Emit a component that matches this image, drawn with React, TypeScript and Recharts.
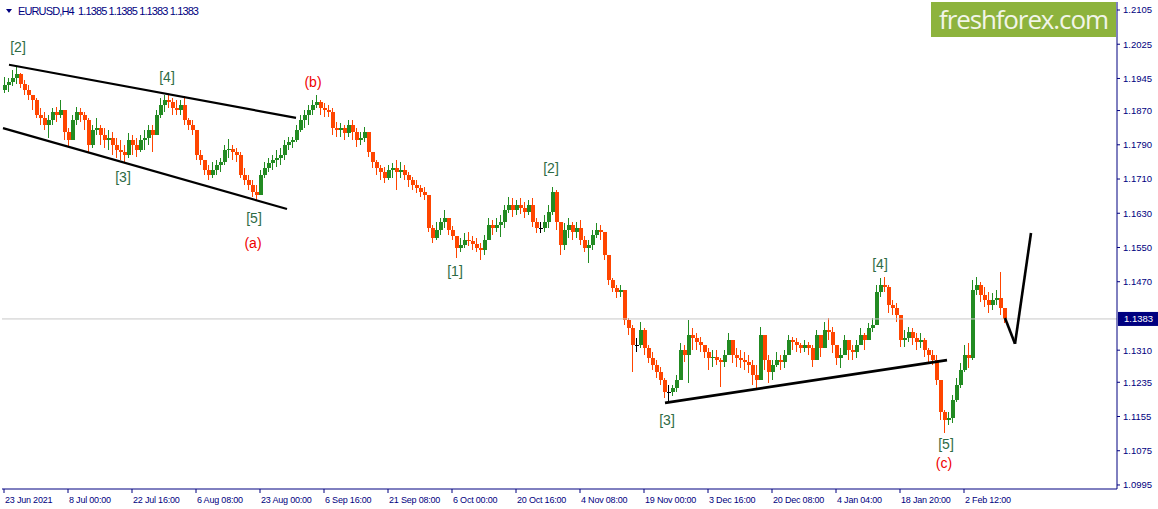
import React from 'react';
import { ComposedChart, Bar, XAxis, YAxis, ReferenceLine, ReferenceDot } from 'recharts';

// ---------- data (EURUSD, aggregated H4 candles) ----------
const firstOpen = 1.1918;

const closes = [
  1.1930, 1.1937, 1.1946, 1.1956, 1.1932, 1.1918, 1.1906, 1.1895, 1.1860, 1.1853,
  1.1836, 1.1848, 1.1867, 1.1860, 1.1871, 1.1820, 1.1801, 1.1848, 1.1867, 1.1860,
  1.1848, 1.1790, 1.1825, 1.1829, 1.1813, 1.1801, 1.1806, 1.1790, 1.1778, 1.1773,
  1.1766, 1.1801, 1.1790, 1.1778, 1.1801, 1.1806, 1.1825, 1.1813, 1.1860, 1.1883,
  1.1895, 1.1890, 1.1876, 1.1871, 1.1883, 1.1848, 1.1836, 1.1825, 1.1766, 1.1755,
  1.1731, 1.1719, 1.1731, 1.1743, 1.1750, 1.1778, 1.1781, 1.1773, 1.1766, 1.1719,
  1.1708, 1.1696, 1.1680, 1.1673, 1.1719, 1.1736, 1.1748, 1.1755, 1.1759, 1.1766,
  1.1790, 1.1797, 1.1801, 1.1825, 1.1848, 1.1860, 1.1871, 1.1883, 1.1890, 1.1876,
  1.1871, 1.1867, 1.1829, 1.1825, 1.1829, 1.1818, 1.1836, 1.1820, 1.1801, 1.1806,
  1.1820, 1.1773, 1.1750, 1.1736, 1.1726, 1.1712, 1.1731, 1.1736, 1.1726, 1.1731,
  1.1719, 1.1708, 1.1696, 1.1689, 1.1680, 1.1673, 1.1596, 1.1572, 1.1591, 1.1610,
  1.1619, 1.1591, 1.1577, 1.1549, 1.1556, 1.1568, 1.1565, 1.1558, 1.1549, 1.1544,
  1.1568, 1.1603, 1.1596, 1.1603, 1.1610, 1.1638, 1.1649, 1.1638, 1.1649, 1.1642,
  1.1633, 1.1649, 1.1610, 1.1596, 1.1596, 1.1610, 1.1633, 1.1680, 1.1610, 1.1556,
  1.1591, 1.1603, 1.1586, 1.1596, 1.1568, 1.1549, 1.1556, 1.1579, 1.1591, 1.1586,
  1.1533, 1.1474, 1.1455, 1.1446, 1.1451, 1.1381, 1.1362, 1.1322, 1.1322, 1.1357,
  1.1315, 1.1292, 1.1276, 1.1259, 1.1240, 1.1212, 1.1212, 1.1222, 1.1240, 1.1311,
  1.1299, 1.1346, 1.1339, 1.1329, 1.1322, 1.1306, 1.1292, 1.1295, 1.1287, 1.1283,
  1.1299, 1.1334, 1.1299, 1.1292, 1.1287, 1.1283, 1.1276, 1.1252, 1.1240, 1.1346,
  1.1287, 1.1259, 1.1276, 1.1287, 1.1283, 1.1299, 1.1334, 1.1329, 1.1322, 1.1315,
  1.1322, 1.1315, 1.1287, 1.1346, 1.1315, 1.1357, 1.1353, 1.1322, 1.1292, 1.1299,
  1.1334, 1.1311, 1.1306, 1.1322, 1.1346, 1.1334, 1.1362, 1.1369, 1.1446, 1.1462,
  1.1458, 1.1416, 1.1409, 1.1392, 1.1334, 1.1339, 1.1353, 1.1339, 1.1329, 1.1334,
  1.1311, 1.1299, 1.1287, 1.1240, 1.1166, 1.1147, 1.1152, 1.1194, 1.1229, 1.1264,
  1.1299, 1.1292, 1.1451, 1.1462, 1.1439, 1.1427, 1.1416, 1.1427, 1.1432, 1.1409,
  1.1383,
];

const highs = [
  1.1948, 1.1946, 1.1965, 1.1974, 1.1958, 1.1941, 1.1930, 1.1906, 1.1899, 1.1876,
  1.1867, 1.1860, 1.1876, 1.1878, 1.1895, 1.1860, 1.1829, 1.1860, 1.1878, 1.1876,
  1.1867, 1.1853, 1.1836, 1.1853, 1.1836, 1.1829, 1.1825, 1.1820, 1.1806, 1.1801,
  1.1790, 1.1818, 1.1813, 1.1806, 1.1813, 1.1825, 1.1836, 1.1836, 1.1871, 1.1899,
  1.1906, 1.1909, 1.1899, 1.1895, 1.1895, 1.1904, 1.1853, 1.1848, 1.1825, 1.1778,
  1.1755, 1.1743, 1.1750, 1.1755, 1.1759, 1.1790, 1.1804, 1.1790, 1.1783, 1.1773,
  1.1736, 1.1719, 1.1708, 1.1696, 1.1731, 1.1750, 1.1759, 1.1766, 1.1778, 1.1783,
  1.1801, 1.1808, 1.1808, 1.1836, 1.1860, 1.1871, 1.1883, 1.1895, 1.1906, 1.1895,
  1.1888, 1.1883, 1.1876, 1.1843, 1.1841, 1.1836, 1.1848, 1.1848, 1.1829, 1.1820,
  1.1832, 1.1813, 1.1773, 1.1755, 1.1743, 1.1738, 1.1743, 1.1748, 1.1755, 1.1750,
  1.1743, 1.1726, 1.1715, 1.1708, 1.1696, 1.1691, 1.1661, 1.1603, 1.1610, 1.1619,
  1.1638, 1.1614, 1.1600, 1.1572, 1.1572, 1.1584, 1.1586, 1.1577, 1.1572, 1.1561,
  1.1579, 1.1619, 1.1614, 1.1619, 1.1626, 1.1649, 1.1668, 1.1666, 1.1661, 1.1666,
  1.1656, 1.1661, 1.1666, 1.1619, 1.1610, 1.1626, 1.1649, 1.1691, 1.1684, 1.1610,
  1.1607, 1.1619, 1.1610, 1.1610, 1.1614, 1.1577, 1.1568, 1.1591, 1.1607, 1.1603,
  1.1586, 1.1533, 1.1479, 1.1462, 1.1462, 1.1451, 1.1385, 1.1369, 1.1339, 1.1376,
  1.1362, 1.1322, 1.1306, 1.1287, 1.1271, 1.1245, 1.1229, 1.1229, 1.1252, 1.1327,
  1.1322, 1.1381, 1.1362, 1.1350, 1.1341, 1.1322, 1.1315, 1.1311, 1.1311, 1.1292,
  1.1311, 1.1350, 1.1322, 1.1315, 1.1311, 1.1306, 1.1299, 1.1287, 1.1276, 1.1364,
  1.1346, 1.1299, 1.1287, 1.1306, 1.1299, 1.1311, 1.1346, 1.1341, 1.1339, 1.1327,
  1.1334, 1.1329, 1.1322, 1.1357, 1.1339, 1.1376, 1.1385, 1.1364, 1.1322, 1.1315,
  1.1346, 1.1334, 1.1322, 1.1334, 1.1362, 1.1350, 1.1374, 1.1385, 1.1462, 1.1479,
  1.1481, 1.1462, 1.1427, 1.1420, 1.1385, 1.1357, 1.1364, 1.1362, 1.1350, 1.1350,
  1.1339, 1.1315, 1.1311, 1.1299, 1.1240, 1.1170, 1.1166, 1.1205, 1.1245, 1.1280,
  1.1322, 1.1327, 1.1474, 1.1481, 1.1469, 1.1458, 1.1446, 1.1444, 1.1451, 1.1493,
  1.1409,
];

const lows = [
  1.1911, 1.1913, 1.1927, 1.1932, 1.1923, 1.1906, 1.1895, 1.1871, 1.1853, 1.1836,
  1.1825, 1.1806, 1.1836, 1.1843, 1.1853, 1.1801, 1.1785, 1.1801, 1.1836, 1.1843,
  1.1825, 1.1773, 1.1783, 1.1813, 1.1790, 1.1783, 1.1778, 1.1766, 1.1759, 1.1755,
  1.1750, 1.1759, 1.1766, 1.1762, 1.1773, 1.1778, 1.1790, 1.1773, 1.1813, 1.1853,
  1.1867, 1.1876, 1.1860, 1.1860, 1.1860, 1.1836, 1.1825, 1.1813, 1.1755, 1.1743,
  1.1719, 1.1708, 1.1712, 1.1719, 1.1726, 1.1743, 1.1759, 1.1755, 1.1750, 1.1712,
  1.1696, 1.1684, 1.1668, 1.1661, 1.1673, 1.1712, 1.1726, 1.1731, 1.1738, 1.1743,
  1.1755, 1.1778, 1.1783, 1.1797, 1.1820, 1.1829, 1.1836, 1.1860, 1.1876, 1.1860,
  1.1855, 1.1855, 1.1813, 1.1808, 1.1808, 1.1801, 1.1808, 1.1801, 1.1785, 1.1790,
  1.1797, 1.1762, 1.1736, 1.1719, 1.1708, 1.1701, 1.1708, 1.1712, 1.1684, 1.1712,
  1.1708, 1.1691, 1.1684, 1.1677, 1.1668, 1.1661, 1.1586, 1.1561, 1.1568, 1.1579,
  1.1596, 1.1579, 1.1568, 1.1526, 1.1540, 1.1549, 1.1554, 1.1544, 1.1540, 1.1521,
  1.1533, 1.1568, 1.1579, 1.1586, 1.1575, 1.1596, 1.1631, 1.1621, 1.1626, 1.1628,
  1.1619, 1.1626, 1.1598, 1.1584, 1.1584, 1.1586, 1.1596, 1.1626, 1.1591, 1.1533,
  1.1544, 1.1572, 1.1568, 1.1572, 1.1556, 1.1540, 1.1514, 1.1544, 1.1572, 1.1568,
  1.1521, 1.1462, 1.1446, 1.1432, 1.1434, 1.1369, 1.1346, 1.1259, 1.1306, 1.1315,
  1.1299, 1.1280, 1.1264, 1.1245, 1.1229, 1.1198, 1.1187, 1.1203, 1.1212, 1.1240,
  1.1283, 1.1233, 1.1311, 1.1311, 1.1306, 1.1292, 1.1264, 1.1271, 1.1276, 1.1224,
  1.1271, 1.1304, 1.1280, 1.1271, 1.1269, 1.1264, 1.1257, 1.1229, 1.1217, 1.1240,
  1.1264, 1.1233, 1.1240, 1.1271, 1.1264, 1.1269, 1.1304, 1.1311, 1.1306, 1.1304,
  1.1306, 1.1299, 1.1271, 1.1299, 1.1294, 1.1322, 1.1334, 1.1304, 1.1276, 1.1269,
  1.1299, 1.1287, 1.1287, 1.1292, 1.1322, 1.1311, 1.1334, 1.1353, 1.1381, 1.1434,
  1.1446, 1.1397, 1.1392, 1.1376, 1.1318, 1.1318, 1.1329, 1.1322, 1.1311, 1.1315,
  1.1294, 1.1283, 1.1276, 1.1229, 1.1147, 1.1117, 1.1135, 1.1140, 1.1189, 1.1222,
  1.1259, 1.1269, 1.1287, 1.1439, 1.1423, 1.1411, 1.1397, 1.1404, 1.1416, 1.1392,
  1.1374,
];

// x-axis: one index per aggregated candle; a date label every 16 candles
const dateLabels = [
  '23 Jun 2021', '8 Jul 00:00', '22 Jul 16:00', '6 Aug 08:00', '23 Aug 00:00', '6 Sep 16:00',
  '21 Sep 08:00', '6 Oct 00:00', '20 Oct 16:00', '4 Nov 08:00', '19 Nov 00:00', '3 Dec 16:00',
  '20 Dec 08:00', '4 Jan 04:00', '18 Jan 20:00', '2 Feb 12:00',
];
const dateTickIdx = [0, 16, 32, 48, 64, 80, 96, 112, 128, 144, 160, 176, 192, 208, 224, 240];

const priceTicks = [
  1.2105, 1.2025, 1.1945, 1.1870, 1.1790, 1.1710, 1.1630, 1.1550, 1.1470,
  1.1310, 1.1235, 1.1155, 1.1075, 1.0995,
];

const symbolLabel = 'EURUSD,H4';
const lastBar = [1.1385, 1.1385, 1.1383, 1.1383];
const lastPrice = 1.1383;

// trend lines (bar index, price)
const trendLines = [
  { x1: 1.25, y1: 1.1977, x2: 73, y2: 1.1853 },
  { x1: -0.25, y1: 1.1829, x2: 70.75, y2: 1.1640 },
  { x1: 165.25, y1: 1.1187, x2: 235.75, y2: 1.1287 },
];
const projection = [
  { i: 250.25, p: 1.1385 },
  { i: 252.75, p: 1.1325 },
  { i: 256.75, p: 1.1584 },
];

const waveLabels = [
  { text: '[2]', i: 3.5, p: 1.2019, major: false },
  { text: '[4]', i: 40.75, p: 1.1948, major: false },
  { text: '[3]', i: 29.75, p: 1.1715, major: false },
  { text: '[5]', i: 62.5, p: 1.1619, major: false },
  { text: '(a)', i: 62.25, p: 1.1561, major: true },
  { text: '(b)', i: 77.25, p: 1.1937, major: true },
  { text: '[1]', i: 112.75, p: 1.1495, major: false },
  { text: '[2]', i: 136.75, p: 1.1736, major: false },
  { text: '[3]', i: 165.75, p: 1.1147, major: false },
  { text: '[4]', i: 219, p: 1.1511, major: false },
  { text: '[5]', i: 235.5, p: 1.1091, major: false },
  { text: '(c)', i: 235, p: 1.1046, major: true },
];

// ---------- styling ----------
const W = 1158;
const H = 509;
const NAVY = '#000080';
const BULL = '#228B22';
const BEAR = '#FF4500';
const FONT = '"Liberation Sans", Arial, sans-serif';
const X_DOMAIN: [number, number] = [-0.5, 278.25];
const Y_DOMAIN: [number, number] = [1.09856, 1.21237];

const candles = closes.map((c, i) => {
  const open = i === 0 ? firstOpen : closes[i - 1];
  const high = Math.max(highs[i], open, c);
  const low = Math.min(lows[i], open, c);
  return { i, open, close: c, high, low, range: [low, high] };
});

const Candle = (props: any) => {
  const { x, y, width, height, payload } = props;
  if (!payload || x == null || y == null) return null;
  const { open, close, high, low } = payload;
  const cx = Math.round(x + width / 2) + 0.5;
  const span = high - low;
  const k = span > 0 ? height / span : 0;
  const yOf = (v: number) => y + (high - v) * k;
  const top = yOf(Math.max(open, close));
  const bot = yOf(Math.min(open, close));
  const color = close > open ? BULL : close < open ? BEAR : '#000000';
  return (
    <g shapeRendering="crispEdges">
      <line x1={cx} x2={cx} y1={y} y2={y + height} stroke={color} strokeWidth={1} />
      <rect x={cx - 2} y={top} width={4} height={Math.max(bot - top, 1)} fill={color} />
    </g>
  );
};

const DateTick = (props: any) => {
  const { x, y, payload } = props;
  const k = dateTickIdx.indexOf(payload.value);
  return (
    <text x={x + 1} y={y + 10} fill={NAVY} fontSize={9} fontFamily={FONT} letterSpacing={-0.2}>
      {dateLabels[k]}
    </text>
  );
};

const PriceTag = (props: any) => {
  const vb = props.viewBox || {};
  const right = (vb.x || 0) + (vb.width || 0);
  const yy = vb.y || 0;
  return (
    <g>
      <rect x={right + 1} y={yy - 7} width={41} height={14} fill={NAVY} />
      <text x={right + 7} y={yy + 3.5} fill="#ffffff" fontSize={9.5} fontFamily={FONT}>
        {lastPrice.toFixed(4)}
      </text>
    </g>
  );
};

const makeWaveLabel = (text: string, color: string) => (props: any) => {
  const vb = props.viewBox || {};
  const cx = vb.cx != null ? vb.cx : (vb.x || 0) + (vb.width || 0) / 2;
  const cy = vb.cy != null ? vb.cy : (vb.y || 0) + (vb.height || 0) / 2;
  return (
    <text x={cx} y={cy} textAnchor="middle" dominantBaseline="central" fill={color} fontSize={14} fontFamily={FONT}>
      {text}
    </text>
  );
};

export default function App() {
  const projSegments = projection.slice(1).map((pt, k) => ({ a: projection[k], b: pt }));
  return (
    <div style={{ position: 'absolute', left: 0, top: 0, width: W, height: H, background: '#ffffff' }}>
      <ComposedChart width={W} height={H} data={candles} margin={{ top: 2, right: 0, bottom: 0, left: 2 }}>
        <XAxis
          xAxisId="top"
          orientation="top"
          type="number"
          dataKey="i"
          domain={X_DOMAIN}
          allowDataOverflow
          height={0}
          tick={false}
          tickLine={false}
          axisLine={{ stroke: NAVY }}
        />
        <YAxis yAxisId="left" orientation="left" width={0} tick={false} tickLine={false} axisLine={{ stroke: NAVY }} />
        <XAxis
          type="number"
          dataKey="i"
          domain={X_DOMAIN}
          allowDataOverflow
          ticks={dateTickIdx}
          interval={0}
          height={20}
          tickSize={4}
          tickMargin={0}
          axisLine={{ stroke: NAVY }}
          tickLine={{ stroke: NAVY }}
          tick={<DateTick />}
        />
        <YAxis
          orientation="right"
          type="number"
          domain={Y_DOMAIN}
          allowDataOverflow
          ticks={priceTicks}
          interval={0}
          width={41}
          tickSize={3}
          tickMargin={3}
          axisLine={{ stroke: NAVY }}
          tickLine={{ stroke: NAVY }}
          tick={{ fill: NAVY, fontSize: 9.5, fontFamily: FONT }}
          tickFormatter={(v: number) => v.toFixed(4)}
        />
        <ReferenceLine y={lastPrice} stroke="#C8C8C8" strokeWidth={1} label={PriceTag} />
        <Bar dataKey="range" barSize={3} shape={Candle} isAnimationActive={false} />
        {trendLines.map((t, k) => (
          <ReferenceLine
            key={'t' + k}
            segment={[{ x: t.x1, y: t.y1 }, { x: t.x2, y: t.y2 }]}
            stroke="#000000"
            strokeWidth={k === 2 ? 2.8 : 2.2}
          />
        ))}
        {projSegments.map((s, k) => (
          <ReferenceLine
            key={'p' + k}
            segment={[{ x: s.a.i, y: s.a.p }, { x: s.b.i, y: s.b.p }]}
            stroke="#000000"
            strokeWidth={2.6}
          />
        ))}
        {waveLabels.map((l, k) => (
          <ReferenceDot
            key={'w' + k}
            x={l.i}
            y={l.p}
            r={0}
            fill="none"
            stroke="none"
            label={makeWaveLabel(l.text, l.major ? '#F00000' : '#2E6B45')}
          />
        ))}
      </ComposedChart>
      <svg width={W} height={H} style={{ position: 'absolute', left: 0, top: 0, pointerEvents: 'none' }}>
        <polygon points="6,9 12,9 9,13" fill={NAVY} />
        <text x={18} y={15} fill={NAVY} fontSize={11} fontFamily={FONT} textLength={181} style={{ whiteSpace: 'pre' }}>
          {symbolLabel + '  ' + lastBar.map((v) => v.toFixed(4)).join(' ')}
        </text>
        <rect x={931} y={2} width={185} height={35} fill="#8DB33D" />
        <text x={939} y={29} fill="#F2F5E8" fontSize={26} fontFamily='"Open Sans", "Noto Sans", sans-serif' textLength={170}>
          freshforex.com
        </text>
      </svg>
    </div>
  );
}
